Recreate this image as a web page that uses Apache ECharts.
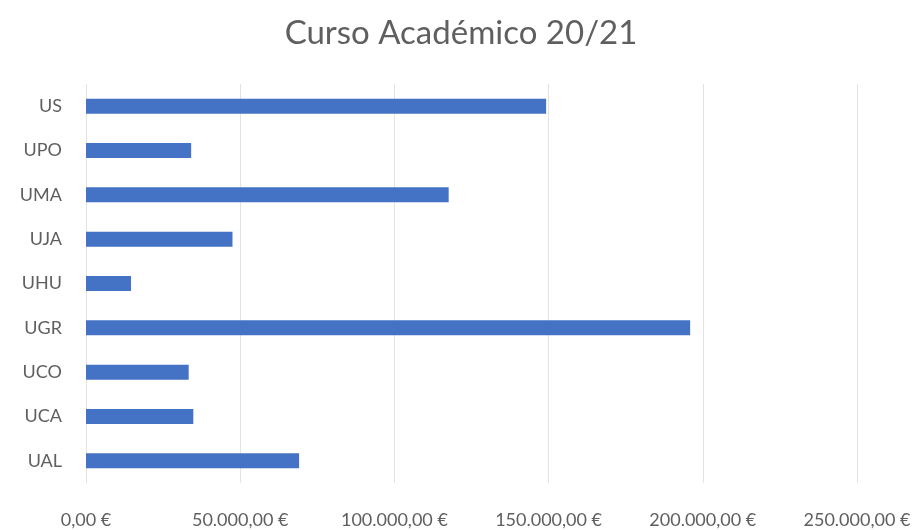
<!DOCTYPE html>
<html>
<head>
<meta charset="utf-8">
<script src="https://cdn.jsdelivr.net/npm/echarts@6/dist/echarts.min.js"></script>
<style>
  html, body { margin: 0; padding: 0; background: #fff; }
  #chart { width: 922px; height: 530px; }
</style>
</head>
<body>
<div id="chart"></div>
<script>
// universidades, de abajo a arriba
const universidades = ['UAL', 'UCA', 'UCO', 'UGR', 'UHU', 'UJA', 'UMA', 'UPO', 'US']
const importes = [69100, 34800, 33300, 195900, 14600, 47500, 117600, 34100, 149200]
const ejeMax = 250000
const ejeIntervalo = 50000

const fmtEuro = v => {
  const [ent, dec] = v.toFixed(2).split('.')
  return ent.replace(/\B(?=(\d{3})+(?!\d))/g, '.') + ',' + dec + ' €'
}

const chart = echarts.init(document.getElementById('chart'))
chart.setOption({
  animation: false,
  title: {
    text: 'Curso Académico 20/21',
    left: 'center', top: 12,
    textStyle: { fontFamily: 'Lato', fontSize: 33, fontWeight: 'normal', color: '#5f5f5f' }
  },
  grid: { left: 86, right: 65, top: 84, bottom: 47 },
  xAxis: {
    type: 'value', min: 0, max: ejeMax, interval: ejeIntervalo,
    axisLine: { show: false },
    axisTick: { show: false },
    axisLabel: {
      color: '#5f5f5f', fontSize: 18, fontFamily: 'Lato',
      margin: 28, formatter: fmtEuro
    },
    splitLine: { lineStyle: { color: '#e3e3e3', width: 1 } }
  },
  yAxis: {
    type: 'category', data: universidades,
    axisLine: { lineStyle: { color: '#e3e3e3' } },
    axisTick: { show: false },
    axisLabel: { color: '#5f5f5f', fontSize: 18, fontFamily: 'Lato', margin: 24 }
  },
  series: [{
    type: 'bar', data: importes, barWidth: 15,
    itemStyle: { color: '#4472c4' }
  }]
})
</script>
</body>
</html>
